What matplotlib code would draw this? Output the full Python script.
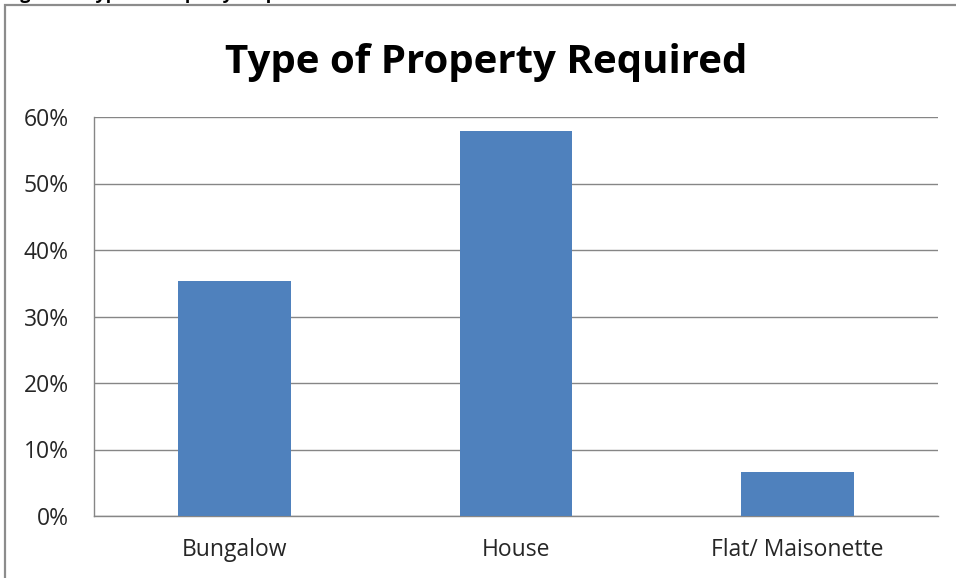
import matplotlib
matplotlib.use("Agg")
import matplotlib.pyplot as plt
from matplotlib.patches import Rectangle
from matplotlib.ticker import PercentFormatter

# data
categories = ["Bungalow", "House", "Flat/ Maisonette"]
shares = [35.3, 57.9, 6.6]
yticks = [0, 10, 20, 30, 40, 50, 60]

plt.rcParams["font.family"] = ["Open Sans", "DejaVu Sans"]

fig = plt.figure(figsize=(9.56, 5.78), dpi=100)
ax = fig.add_axes([94/956, 62/578, 844/956, 399/578])

ax.bar(range(len(categories)), shares, width=0.4, color="#4f81bd", zorder=3)
ax.set_xlim(-0.5, len(categories) - 0.5)
ax.set_ylim(0, 60)
ax.set_yticks(yticks)
ax.yaxis.set_major_formatter(PercentFormatter(decimals=0))
ax.set_xticks(range(len(categories)))
ax.set_xticklabels(categories)
ax.tick_params(length=0, colors="#262626")
ax.tick_params(axis="y", pad=18, labelsize=16.5)
ax.tick_params(axis="x", pad=16, labelsize=16.5)
ax.grid(axis="y", color="#868686", linewidth=1, zorder=0)
for side in ["top", "right"]:
    ax.spines[side].set_visible(False)
for side in ["left", "bottom"]:
    ax.spines[side].set_color("#868686")
    ax.spines[side].set_linewidth(1)

fig.text(0.509, 1 - 73/578, "Type of Property Required", ha="center",
         va="baseline", fontsize=29, fontweight="bold")

# caption above the frame, cut off by the picture edge
fig.text(5/956, 1 + 1/578, "Figure 5: Type of Property Required",
         ha="left", va="baseline", fontsize=13, fontweight="bold")

# outer chart frame, runs off the right and bottom edges
fig.patches.append(Rectangle((5/956, -0.1), 1.1, 1 - 5/578 + 0.1,
                             transform=fig.transFigure, fill=False,
                             edgecolor="#8c8c8c", linewidth=1.6))

fig.savefig("out.png", dpi=100)
